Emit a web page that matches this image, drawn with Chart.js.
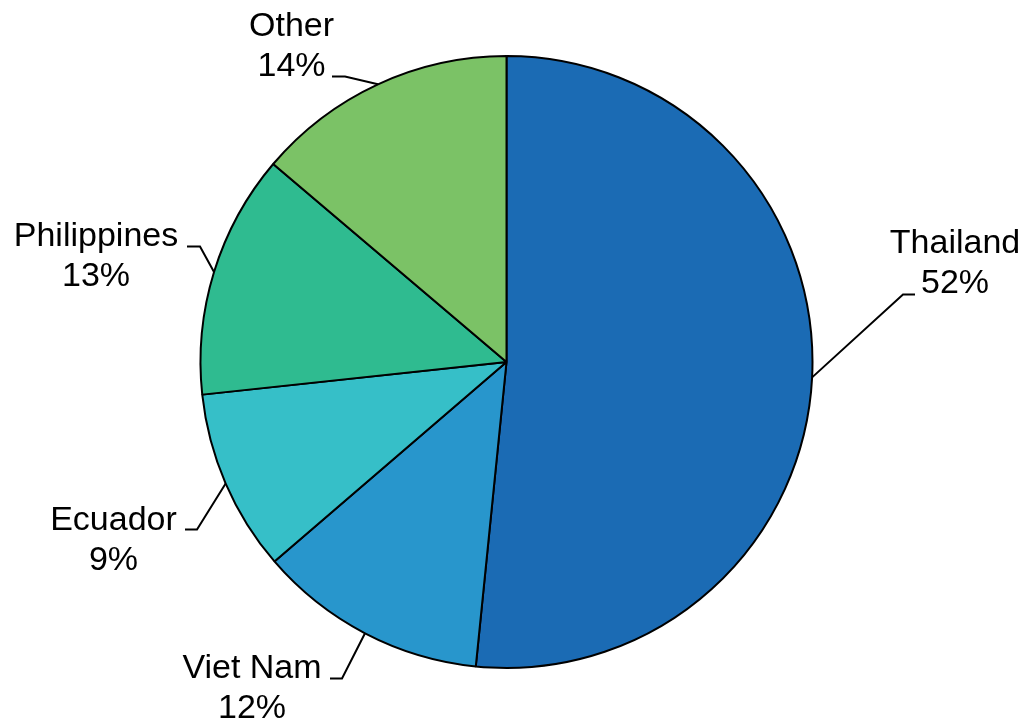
<!DOCTYPE html>
<html>
<head>
<meta charset="utf-8">
<script src="https://cdn.jsdelivr.net/npm/chart.js@4/dist/chart.umd.min.js"></script>
<style>
  html, body { margin: 0; padding: 0; background: #ffffff; }
  #wrap { width: 1029px; height: 723px; }
</style>
</head>
<body>
<div id="wrap"><canvas id="c" width="1029" height="723"></canvas></div>
<script>
// ---- data ----
const categories = ["Thailand", "Viet Nam", "Ecuador", "Philippines", "Other"];
const shares = [51.6, 12.1, 9.6, 12.9, 13.8];
const percentLabels = ["52%", "12%", "9%", "13%", "14%"];

// ---- styles ----
const sliceColors = ["#1b6bb4", "#2896cc", "#36bfc8", "#2fbb90", "#7bc266"];

// label layout, relative to pie centre (px): elbow point, horizontal tail, text centre & baselines
const labelLayout = [
  { ex: 396.5, ey: -67.5, tail: 12,  tx: 448.5, b1: -109.5, b2: -69.5 },
  { ex: -164.5, ey: 316.5, tail: -12, tx: -254.5, b1: 315.5, b2: 355.5 },
  { ex: -309.5, ey: 167.5, tail: -12, tx: -393,   b1: 167.5, b2: 207.5 },
  { ex: -306.5, ey: -115.5, tail: -13, tx: -410.5, b1: -116.5, b2: -76.5 },
  { ex: -161.5, ey: -285.5, tail: -13, tx: -215,   b1: -326.5, b2: -286.5 }
];

const leaderPlugin = {
  id: 'leaderLabels',
  afterDatasetsDraw(chart) {
    const ctx = chart.ctx;
    const meta = chart.getDatasetMeta(0);
    ctx.save();
    ctx.strokeStyle = '#000';
    ctx.lineWidth = 2;
    ctx.fillStyle = '#000';
    ctx.font = '34px "Liberation Sans", Arial, sans-serif';
    ctx.textAlign = 'center';
    ctx.textBaseline = 'alphabetic';
    meta.data.forEach((arc, i) => {
      const p = arc.getProps(['x', 'y', 'startAngle', 'endAngle', 'outerRadius'], true);
      const mid = (p.startAngle + p.endAngle) / 2;
      const sx = p.x + Math.cos(mid) * p.outerRadius;
      const sy = p.y + Math.sin(mid) * p.outerRadius;
      const L = labelLayout[i];
      const ex = p.x + L.ex, ey = p.y + L.ey;
      ctx.beginPath();
      ctx.moveTo(sx, sy);
      ctx.lineTo(ex, ey);
      ctx.lineTo(ex + L.tail, ey);
      ctx.stroke();
      ctx.fillText(categories[i], p.x + L.tx, p.y + L.b1);
      ctx.fillText(percentLabels[i], p.x + L.tx, p.y + L.b2);
    });
    ctx.restore();
  }
};

new Chart(document.getElementById('c'), {
  type: 'pie',
  data: {
    labels: categories,
    datasets: [{
      data: shares,
      backgroundColor: sliceColors,
      borderColor: '#000000',
      borderWidth: 2,
      borderAlign: 'center'
    }]
  },
  options: {
    responsive: false,
    devicePixelRatio: 1,
    animation: false,
    layout: { padding: { top: 55, bottom: 54, left: 199, right: 215 } },
    plugins: {
      legend: { display: false },
      tooltip: { enabled: false }
    }
  },
  plugins: [leaderPlugin]
});
</script>
</body>
</html>
